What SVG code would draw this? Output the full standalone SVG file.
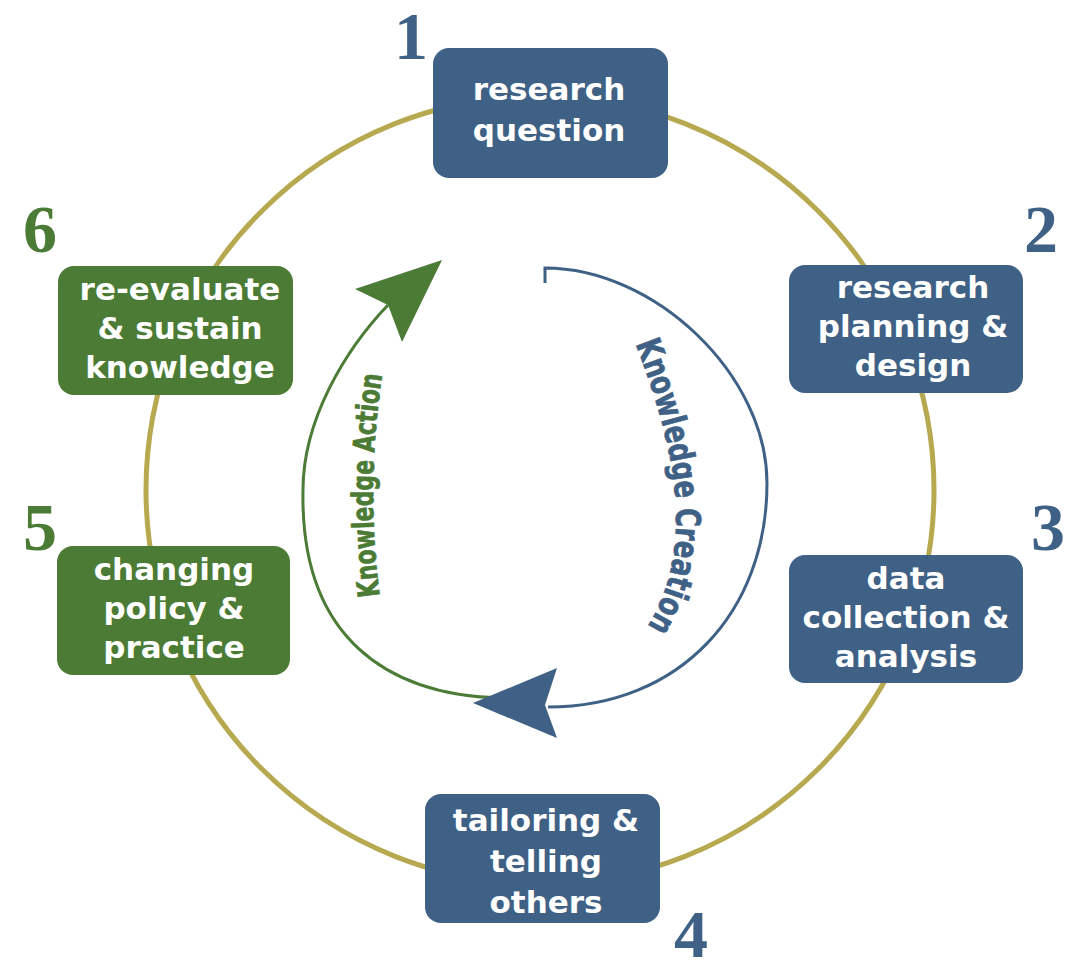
<svg xmlns="http://www.w3.org/2000/svg" width="1081" height="971" viewBox="0 0 1081 971">
<defs>
<style>
.blue{fill:#3f6185}
.green{fill:#4b7b34}
.lbl{font-family:'DejaVu Sans','Noto Sans',sans-serif;font-weight:bold;font-size:31px;fill:#ffffff;text-anchor:middle}
.num{font-family:'Liberation Serif','DejaVu Serif',serif;font-weight:bold;font-size:68px;text-anchor:middle}
.ring{fill:none;stroke:#b7a950;stroke-width:5}
.arcb{fill:none;stroke:#3f6185;stroke-width:3}
.arcg{fill:none;stroke:#4b7b34;stroke-width:3}
.arclbl{font-family:'DejaVu Sans Condensed','DejaVu Sans',sans-serif;font-stretch:condensed;font-weight:bold;stroke-width:0.7}
</style>
<path id="pCreation" d="M 634,340 C 665,420 705,540 645,630"/>
<path id="pAction" d="M 380,598 Q 365,484 383,370"/>
</defs>
<rect width="1081" height="971" fill="#ffffff"/>
<g id="connectors">
<circle class="ring" cx="540" cy="490" r="394"/>
<path class="arcg" d="M 500,698 C 390,695 300,640 303,490 C 303,420 345,350 388,305"/>
<polygon class="green" points="442,260 355,289 388,305 402,342"/>
<path class="arcb" d="M 545,283 L 545,268 C 655,268 767,375 767,483 C 767,612 680,707 548,707"/>
<polygon class="blue" points="473,703 557,668 545,705 557,738"/>
<text class="arclbl" font-size="34" fill="#3f6185" stroke="#3f6185"><textPath href="#pCreation" startOffset="4" textLength="294" lengthAdjust="spacingAndGlyphs">Knowledge Creation</textPath></text>
<text class="arclbl" font-size="30" fill="#4b7b34" stroke="#4b7b34"><textPath href="#pAction" startOffset="2" textLength="222" lengthAdjust="spacingAndGlyphs">Knowledge Action</textPath></text>
</g>
<g id="node1">
<rect class="blue" x="433" y="48" width="235" height="130" rx="16"/>
<text class="lbl" x="549" y="100">research</text>
<text class="lbl" x="549" y="141">question</text>
<text class="num blue" x="411" y="59">1</text>
</g>
<g id="node2">
<rect class="blue" x="789" y="265" width="234" height="128" rx="16"/>
<text class="lbl" x="913" y="298">research</text>
<text class="lbl" x="913" y="337">planning &amp;</text>
<text class="lbl" x="913" y="376">design</text>
<text class="num blue" x="1041" y="252">2</text>
</g>
<g id="node3">
<rect class="blue" x="789" y="555" width="234" height="128" rx="16"/>
<text class="lbl" x="906" y="589">data</text>
<text class="lbl" x="906" y="628">collection &amp;</text>
<text class="lbl" x="906" y="667">analysis</text>
<text class="num blue" x="1048" y="550">3</text>
</g>
<g id="node4">
<rect class="blue" x="425" y="794" width="235" height="129" rx="16"/>
<text class="lbl" x="546" y="831">tailoring &amp;</text>
<text class="lbl" x="546" y="872">telling</text>
<text class="lbl" x="546" y="913">others</text>
<text class="num blue" x="691" y="957" font-size="62">4</text>
</g>
<g id="node5">
<rect class="green" x="57" y="546" width="233" height="129" rx="16"/>
<text class="lbl" x="174" y="580">changing</text>
<text class="lbl" x="174" y="619">policy &amp;</text>
<text class="lbl" x="174" y="658">practice</text>
<text class="num green" x="40" y="550">5</text>
</g>
<g id="node6">
<rect class="green" x="58" y="266" width="235" height="129" rx="16"/>
<text class="lbl" x="180" y="300">re-evaluate</text>
<text class="lbl" x="180" y="339">&amp; sustain</text>
<text class="lbl" x="180" y="378">knowledge</text>
<text class="num green" x="40" y="252">6</text>
</g>
</svg>
